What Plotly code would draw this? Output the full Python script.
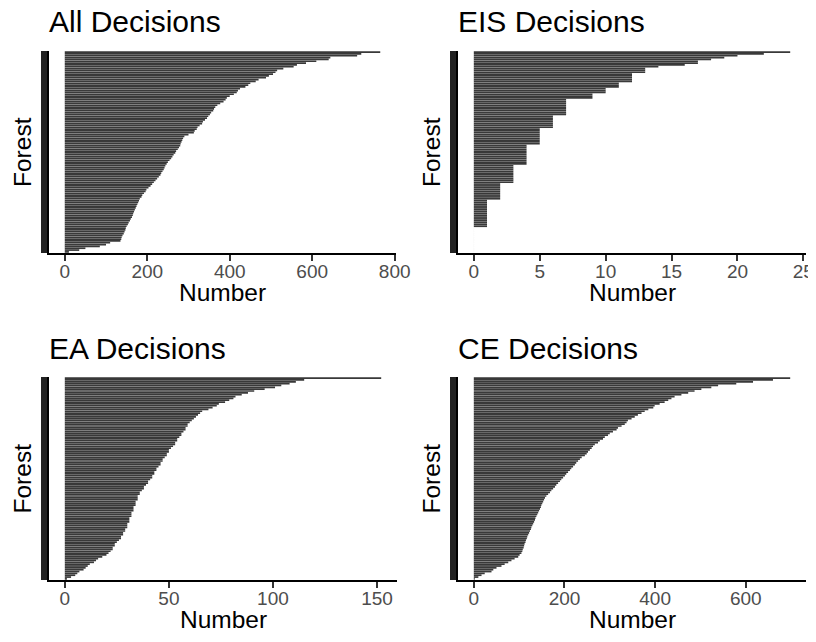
import plotly.graph_objects as go

# Values per panel, sorted largest (top) to smallest (bottom); one value per forest
all_decisions = [765, 719, 709, 644, 640, 610, 585, 563, 555, 530,
                 515, 511, 505, 495, 488, 470, 463, 450, 445, 438,
                 425, 420, 417, 410, 400, 393, 390, 385, 377, 370,
                 365, 362, 360, 355, 352, 348, 345, 340, 335, 333,
                 327, 322, 320, 315, 313, 300, 290, 287, 285, 283,
                 281, 280, 277, 274, 270, 268, 264, 261, 258, 254,
                 250, 247, 244, 242, 240, 237, 234, 232, 228, 224,
                 220, 216, 212, 208, 203, 198, 196, 192, 188, 186,
                 182, 180, 178, 176, 174, 172, 170, 168, 166, 165,
                 163, 160, 158, 155, 153, 150, 148, 147, 145, 143,
                 140, 138, 137, 135, 110, 100, 85, 50, 35, 10]

eis_decisions = ([24, 22, 20, 19, 18, 17, 17, 16, 14]
                 + [13] * 3 + [12] * 5 + [11] * 3 + [10] * 3 + [9] * 3
                 + [7] * 9 + [6] * 7 + [5] * 9 + [4] * 11 + [3] * 10
                 + [2] * 9 + [1] * 15 + [0] * 14)

ea_decisions = [152, 115, 111, 108, 104, 101, 96, 91, 88, 85,
                82, 81, 79, 77, 74, 73, 71, 69, 66, 65,
                64, 63, 62, 61, 60, 59, 59, 58, 58, 57,
                56, 56, 55, 54, 54, 53, 53, 52, 51, 50,
                50, 49, 49, 48, 47, 47, 46, 46, 45, 44,
                44, 43, 43, 42, 42, 41, 40, 40, 39, 38,
                38, 37, 36, 36, 35, 35, 35, 34, 34, 34,
                33, 33, 33, 32, 32, 32, 31, 31, 31, 30,
                30, 30, 29, 29, 28, 28, 27, 27, 26, 25,
                24, 24, 23, 23, 22, 21, 20, 18, 16, 15,
                14, 12, 11, 10, 9, 7, 6, 5, 3, 1]

ce_decisions = [698, 660, 616, 579, 539, 524, 502, 487, 473, 458,
                443, 436, 429, 421, 410, 399, 396, 385, 377, 370,
                362, 355, 348, 340, 337, 333, 326, 318, 315, 307,
                300, 296, 289, 285, 278, 274, 267, 263, 260, 256,
                252, 249, 245, 238, 234, 230, 226, 223, 219, 215,
                212, 208, 204, 201, 197, 193, 190, 186, 182, 179,
                175, 171, 168, 164, 160, 157, 155, 153, 151, 149,
                148, 146, 144, 142, 140, 138, 136, 135, 133, 131,
                129, 127, 126, 124, 122, 120, 118, 117, 115, 114,
                112, 111, 110, 108, 107, 105, 101, 98, 90, 83,
                76, 68, 61, 50, 43, 39, 24, 17, 10, 2]

panel_titles = ["All Decisions", "EIS Decisions", "EA Decisions", "CE Decisions"]
panel_values = [all_decisions, eis_decisions, ea_decisions, ce_decisions]
x_ticks = [[0, 200, 400, 600, 800], [0, 5, 10, 15, 20, 25],
           [0, 50, 100, 150], [0, 200, 400, 600]]
x_title = "Number"
y_title = "Forest"

# the page body has an 8px margin, so the figure is drawn 8px in from the corner
OFF = 8
W, H = 816 - OFF, 642 - OFF
FONT = "Liberation Sans, Arial, Helvetica, sans-serif"
BAR = "#3a3a3a"

# panel boxes in screen pixels: (left, right, top, bottom)
boxes = [(49, 396, 51, 253), (458, 806, 51, 253),
         (49, 397, 377, 580), (458, 806, 377, 580)]


def px(v):
    return (v - OFF) / W


def py(v):
    return 1 - (v - OFF) / H


fig = go.Figure()
annotations = []
for k, (vals, title, ticks, box) in enumerate(zip(panel_values, panel_titles, x_ticks, boxes)):
    n = len(vals)
    idx = list(range(n))
    xa = "x" if k == 0 else f"x{k+1}"
    ya = "y" if k == 0 else f"y{k+1}"
    fig.add_trace(go.Bar(x=vals, y=idx, orientation="h",
                         marker=dict(color=BAR, line=dict(width=0.02, color=BAR)),
                         xaxis=xa, yaxis=ya, showlegend=False, hoverinfo="x"))
    vmax = max(vals)
    pad = 0.05 * vmax
    l, r, t, b = box
    xkey = "xaxis" if k == 0 else f"xaxis{k+1}"
    ykey = "yaxis" if k == 0 else f"yaxis{k+1}"
    fig.update_layout({
        xkey: dict(domain=[px(l), px(r)], anchor=ya, range=[-pad, vmax + pad],
                   automargin=False, showgrid=False, zeroline=False, showline=True,
                   linecolor="black", linewidth=1.5,
                   ticks="outside", ticklen=6, tickwidth=1.5, tickcolor="#333333",
                   tickmode="array", tickvals=ticks, ticklabelstandoff=-6,
                   tickfont=dict(family=FONT, size=19, color="#4d4d4d")),
        ykey: dict(domain=[py(b), py(t)], anchor=xa, range=[n - 0.4, -0.6],
                   automargin=False, showgrid=False, zeroline=False, showline=True,
                   linecolor="black", linewidth=1.5,
                   ticks="outside", ticklen=6, tickwidth=1.6, tickcolor="#222222",
                   tickmode="array", tickvals=idx, showticklabels=False),
    })
    # panel title
    annotations.append(dict(text=title, xref="paper", yref="paper",
                            x=px(l - 2), y=py(t - 29),
                            xanchor="left", yanchor="middle", showarrow=False,
                            font=dict(family=FONT, size=30, color="black")))
    # x axis title
    annotations.append(dict(text=x_title, xref="paper", yref="paper",
                            x=px((l + r) / 2), y=py(b + 39),
                            xanchor="center", yanchor="middle", showarrow=False,
                            font=dict(family=FONT, size=24.5, color="black")))
    # y axis title
    annotations.append(dict(text=y_title, xref="paper", yref="paper", textangle=-90,
                            x=px(l - 27), y=py((t + b) / 2),
                            xanchor="center", yanchor="middle", showarrow=False,
                            font=dict(family=FONT, size=24.5, color="black")))

fig.update_layout(template="none", width=W, height=H,
                  margin=dict(l=0, r=0, t=0, b=0, pad=0),
                  paper_bgcolor="white", plot_bgcolor="white",
                  font=dict(family=FONT),
                  bargap=0.07, annotations=annotations)

fig.write_html("out.html")
